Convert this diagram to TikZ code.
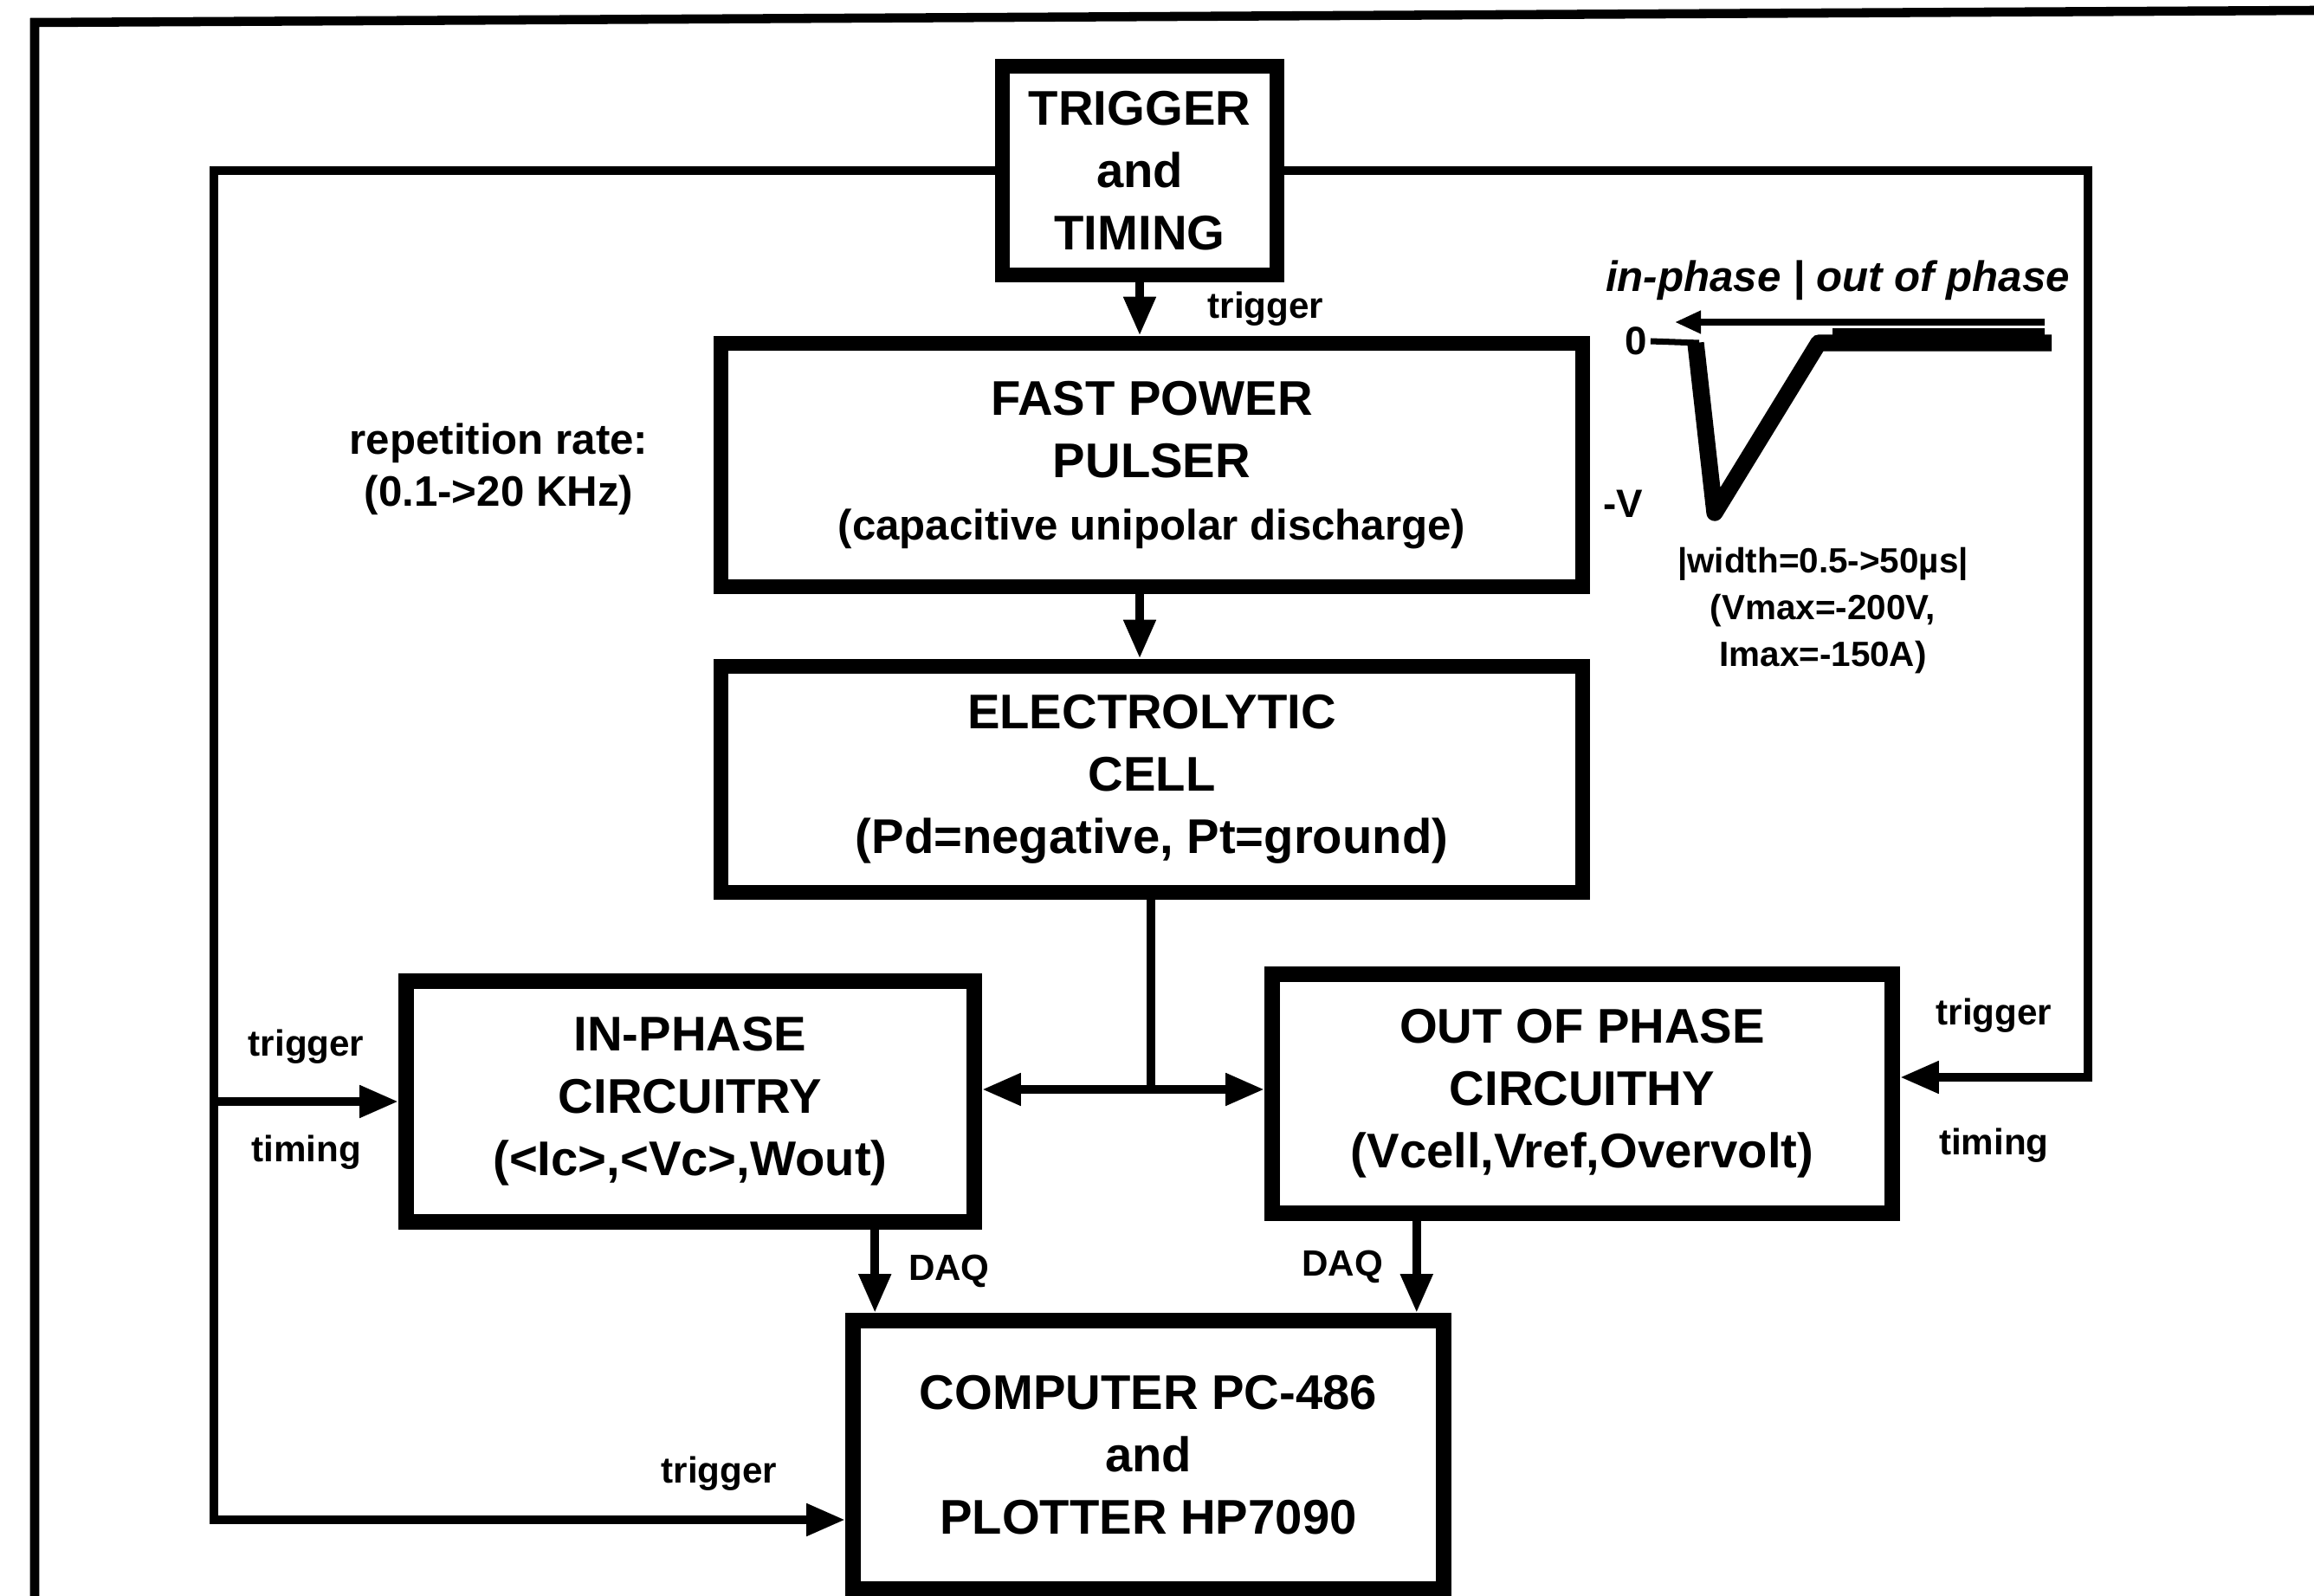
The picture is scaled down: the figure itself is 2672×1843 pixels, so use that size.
\documentclass[tikz,border=0pt]{standalone}
\usepackage{fontspec}
\setmainfont{Liberation Sans}
\usetikzlibrary{arrows.meta, positioning}

\begin{document}
\begin{tikzpicture}[x=0.1mm, y=-0.1mm,
      box/.style={draw, line width=5pt, align=center, inner sep=0pt, font=\bfseries\fontsize{16}{20.5}\selectfont},
      lab/.style={align=center, inner sep=1pt, font=\bfseries\fontsize{12}{14}\selectfont},
      wire/.style={line width=3pt},
      arr/.style={-{Triangle[length=4.5mm, width=3.5mm]}, line width=3pt}]
    \useasboundingbox (0,0) rectangle (2672,1843);
    \draw[line width=3pt] (40,1843) -- (40,26) -- (2672,12);
    % blocks
    \node[box, minimum width=31.7mm, minimum height=24.1mm] (trig) at (1316,197) {TRIGGER\\and\\TIMING};
    \node[box, minimum width=99.5mm, minimum height=28.1mm] (pulser) at (1330,537) {FAST POWER\\PULSER\\\fontsize{14}{20.5}\selectfont(capacitive unipolar discharge)};
    \node[box, minimum width=99.5mm, minimum height=26.1mm] (cell) at (1330,900) {ELECTROLYTIC\\CELL\\(Pd=negative, Pt=ground)};
    \node[box, minimum width=65.6mm, minimum height=27.8mm] (inph) at (797,1272) {IN-PHASE\\CIRCUITRY\\(<Ic>,<Vc>,Wout)};
    \node[box, minimum width=71.6mm, minimum height=27.6mm] (outph) at (1827,1263) {OUT OF PHASE\\CIRCUITHY\\(Vcell,Vref,Overvolt)};
    \node[box, minimum width=68.2mm, minimum height=31mm] (comp) at (1326,1680) {COMPUTER PC-486\\and\\PLOTTER HP7090};
    \node[lab, font=\bfseries\fontsize{14}{17}\selectfont] (rate) at (576,542) {repetition rate:\\(0.1->20 KHz)};
    % connectors
    \coordinate (lc) at (247,1755);
    \coordinate (rc) at (2411,1244);
    \coordinate (jn) at (1329,1258);
    \draw[arr] (trig.south) -- (trig.south |- pulser.north) node[midway, right=7mm, lab] {trigger};
    \draw[arr] (pulser.south -| trig) -- (cell.north -| trig);
    \draw[wire] (cell.south -| jn) -- (jn);
    \draw[arr] (jn) -- (inph.east |- jn);
    \draw[arr] (jn) -- (outph.west |- jn);
    \draw[arr] (trig.west) -| (lc) -- (comp.west |- lc) node[pos=0.8, above=2.5mm, lab] {trigger};
    \draw[arr] (lc |- inph.west) -- (inph.west) node[midway, above=3.5mm, lab] {trigger} node[midway, below=3mm, lab] {timing};
    \draw[arr] (trig.east) -| (rc) -- (outph.east |- rc) node[midway, above=4.3mm, lab] {trigger} node[midway, below=5mm, lab] {timing};
    \draw[arr] ([xshift=3.4mm]comp.north west |- inph.south) -- ([xshift=3.4mm]comp.north west) node[midway, right=3mm, lab] {DAQ};
    \draw[arr] ([xshift=-4mm]comp.north east |- outph.south) -- ([xshift=-4mm]comp.north east) node[midway, left=3mm, lab] {DAQ};
    % pulse shape
    \node[lab, font=\bfseries\itshape\fontsize{14}{17}\selectfont] (phase) at (2122,324) {in-phase | out of phase};
    \node[lab, font=\bfseries\fontsize{13}{15}\selectfont] (zero) at (1889,394) {0};
    \node[lab, font=\bfseries\fontsize{13}{15}\selectfont] (negv) at (1874,582) {-V};
    \node[lab, font=\bfseries\fontsize{11.5}{15.3}\selectfont] (spec) at (2105,705) {|width=0.5->50µs|\\(Vmax=-200V,\\Imax=-150A)};
    \draw[line width=2pt] (zero.east) -- (1962,396);
    \draw[line width=5.5pt, line join=round] (1958,396) -- (1980,592) -- (2100,396) -- (2369,396);
    \draw[line width=2pt, -{Triangle[length=3mm, width=2.5mm]}] (2361,372) -- (1934,372);
    \draw[line width=2pt] (2116,383) -- (2361,383);
  \end{tikzpicture}
\end{document}
